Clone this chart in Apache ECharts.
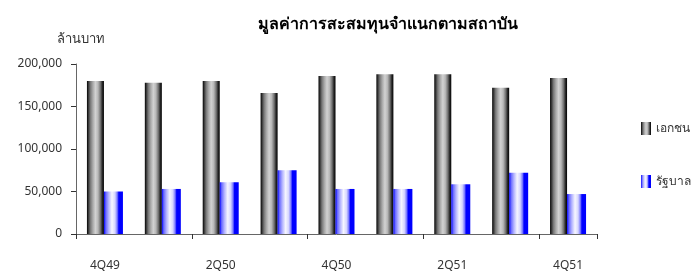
<!DOCTYPE html>
<html>
<head>
<meta charset="utf-8">
<script src="https://cdn.jsdelivr.net/npm/echarts@6/dist/echarts.min.js"></script>
<style>html,body{margin:0;padding:0;background:#fff}#c{width:697px;height:280px}</style>
</head>
<body>
<div id="c"></div>
<script>
var categories = ['4Q49','1Q50','2Q50','3Q50','4Q50','1Q51','2Q51','3Q51','4Q51'];
var privateValues = [180000,178000,180000,166000,186000,188000,188000,172000,183500];
var govValues = [50000,53000,61000,75000,53000,53000,58500,72000,47000];
var seriesNames = ['เอกชน','รัฐบาล'];
var titleText = 'มูลค่าการสะสมทุนจำแนกตามสถาบัน';
var yAxisName = 'ล้านบาท';

var FONT = 'Tahoma, "Noto Sans", "DejaVu Sans", sans-serif';
var darkGrad = new echarts.graphic.LinearGradient(0,0,1,0,[
  {offset:0,color:'#000'},{offset:0.08,color:'#333'},{offset:0.2,color:'#777'},
  {offset:0.35,color:'#aaa'},{offset:0.5,color:'#d2d2d2'},{offset:0.65,color:'#b8b8b8'},
  {offset:0.8,color:'#707070'},{offset:0.9,color:'#2a2a2a'},{offset:1,color:'#000'}]);
var blueGrad = new echarts.graphic.LinearGradient(0,0,1,0,[
  {offset:0,color:'#0000ff'},{offset:0.1,color:'#6a6aff'},{offset:0.25,color:'#b4b4ff'},
  {offset:0.42,color:'#f6f6ff'},{offset:0.58,color:'#d6d6ff'},{offset:0.7,color:'#7a7aff'},
  {offset:0.78,color:'#0000ff'},{offset:1,color:'#0000ff'}]);

var chart = echarts.init(document.getElementById('c'));
chart.setOption({
  animation:false,
  textStyle:{fontFamily:FONT},
  title:{text:titleText,left:383,top:11,textAlign:'center',
    textStyle:{fontSize:16,fontWeight:'bold',color:'#000',fontFamily:FONT}},
  legend:{orient:'vertical',left:636,top:117,itemGap:40,itemWidth:10,itemHeight:13,icon:'rect',
    data:seriesNames,textStyle:{fontSize:12,color:'#333',fontFamily:FONT}},
  grid:{left:76,right:100,top:64,bottom:46},
  xAxis:{type:'category',data:categories,
    axisLine:{lineStyle:{color:'#666',width:1}},
    axisTick:{show:true,alignWithLabel:false,length:5,lineStyle:{color:'#333'}},
    axisLabel:{interval:1,margin:26,fontSize:12,color:'#333',fontFamily:FONT}},
  yAxis:{type:'value',min:0,max:200000,interval:50000,
    name:yAxisName,nameLocation:'end',nameGap:18,
    nameTextStyle:{fontSize:13,color:'#333',align:'center',padding:[0,0,0,10],fontFamily:FONT},
    axisLine:{show:true,lineStyle:{color:'#666'}},
    axisTick:{show:true,length:5,lineStyle:{color:'#333'}},
    splitLine:{show:false},
    axisLabel:{margin:14,fontSize:12,color:'#333',fontFamily:FONT,
      formatter:function(v){return v===0?'0':v.toLocaleString('en-US');}}},
  series:[
    {name:seriesNames[0],type:'bar',data:privateValues,barWidth:17,barGap:'0%',
      itemStyle:{color:darkGrad}},
    {name:seriesNames[1],type:'bar',data:govValues,barWidth:19,barGap:'0%',
      itemStyle:{color:blueGrad}}
  ]
});
</script>
</body>
</html>
